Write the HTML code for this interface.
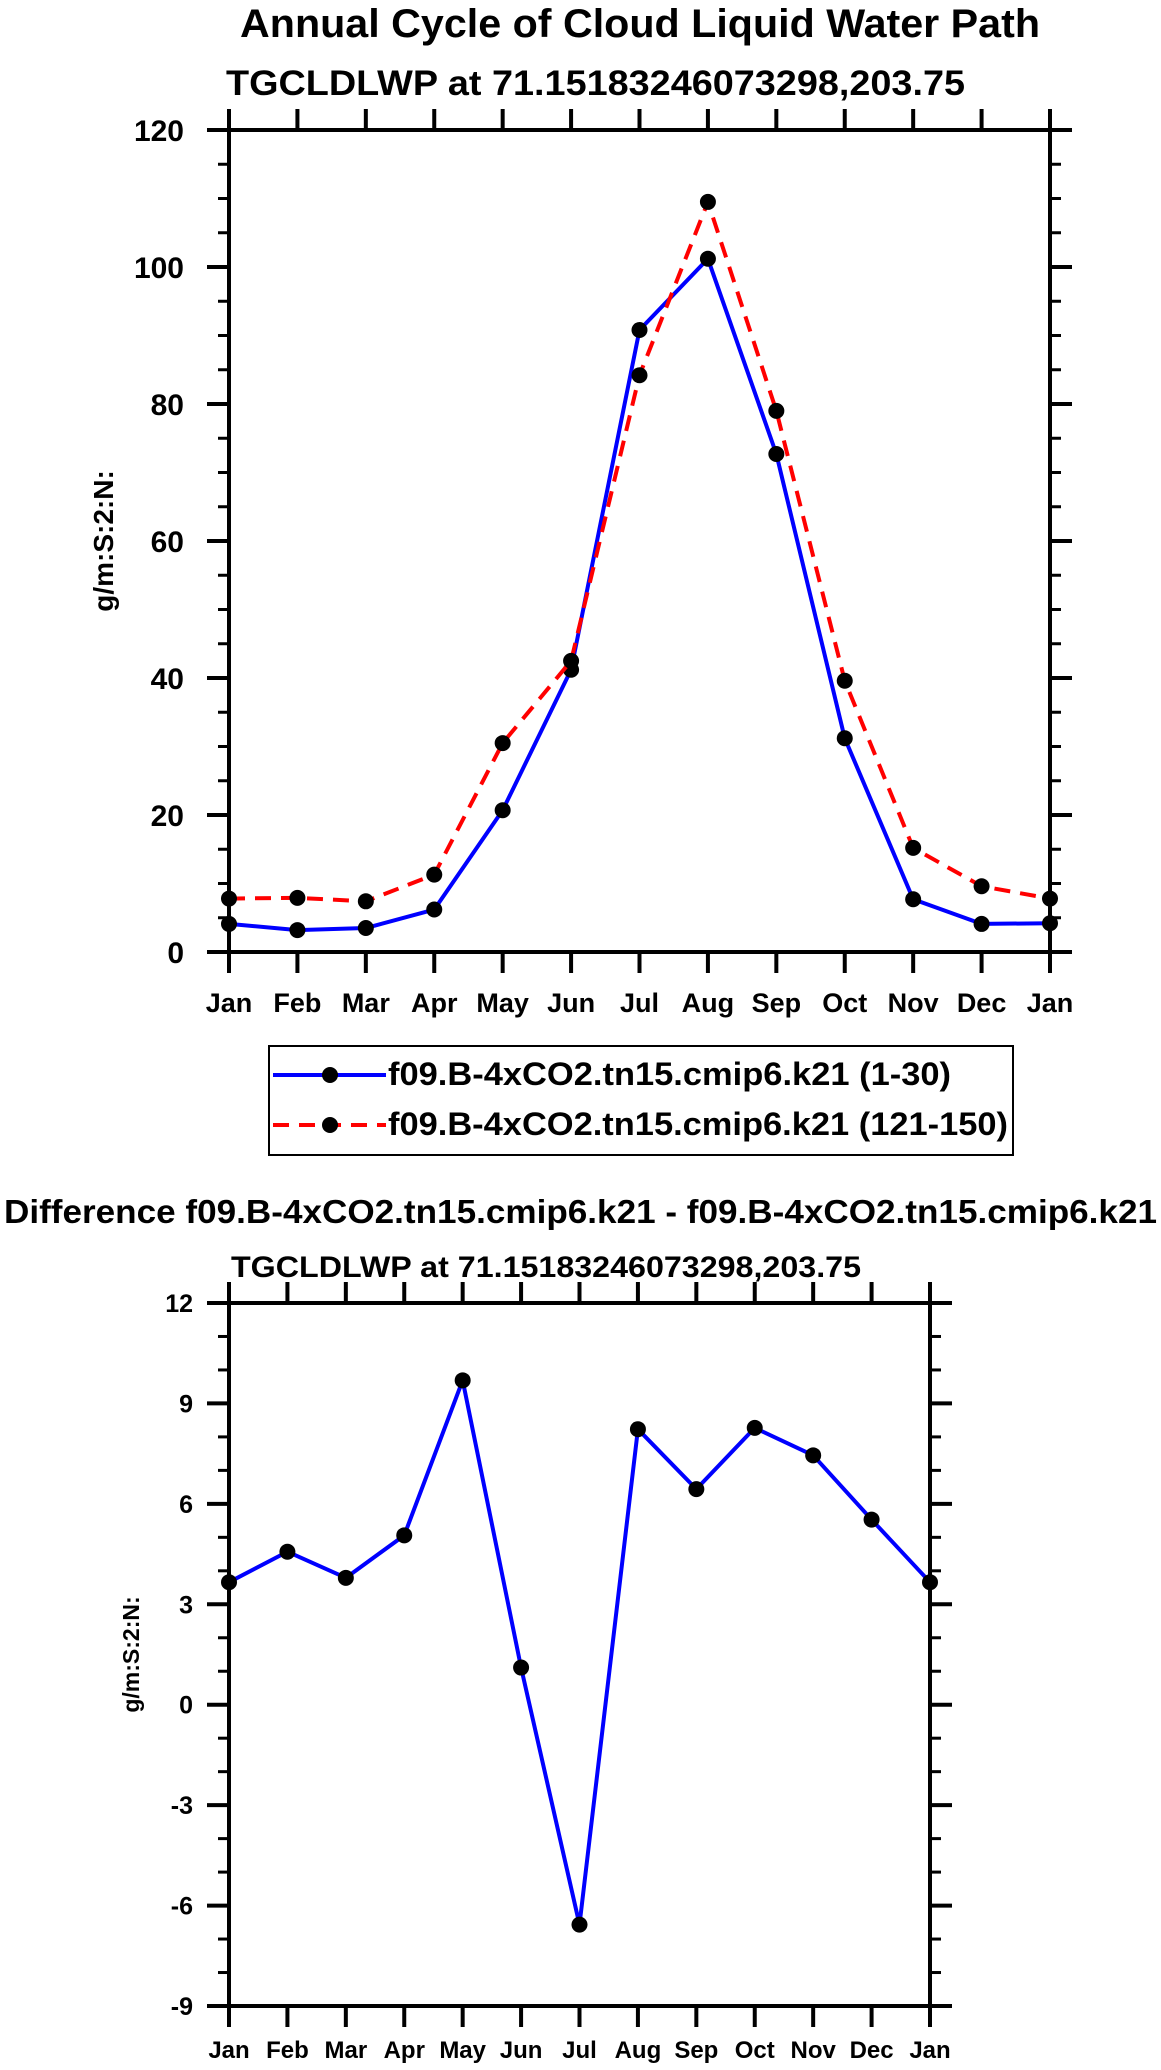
<!DOCTYPE html>
<html><head><meta charset="utf-8"><style>
html,body{margin:0;padding:0;background:#fff;}
svg{display:block;font-family:"Liberation Sans",Arial,sans-serif;font-weight:bold;}
</style></head><body>
<svg id="chart" width="1161" height="2070" viewBox="0 0 1161 2070" xmlns="http://www.w3.org/2000/svg">
<text x="240" y="37" font-size="40" textLength="800" lengthAdjust="spacingAndGlyphs">Annual Cycle of Cloud Liquid Water Path</text>
<text x="226" y="95" font-size="35" textLength="739" lengthAdjust="spacingAndGlyphs">TGCLDLWP at 71.15183246073298,203.75</text>
<g id="top"></g>
<g>
<rect x="269" y="1046" width="744" height="109" fill="none" stroke="#000" stroke-width="2"/>
<line x1="273" y1="1075" x2="386" y2="1075" stroke="#0000ff" stroke-width="4"/>
<circle cx="330" cy="1075" r="8" fill="#000"/>
<text x="388" y="1085" font-size="32" textLength="563" lengthAdjust="spacingAndGlyphs">f09.B-4xCO2.tn15.cmip6.k21 (1-30)</text>
<line x1="273" y1="1125" x2="386" y2="1125" stroke="#ff0000" stroke-width="4" stroke-dasharray="16,10"/>
<circle cx="330" cy="1125" r="8" fill="#000"/>
<text x="388" y="1135" font-size="32" textLength="620" lengthAdjust="spacingAndGlyphs">f09.B-4xCO2.tn15.cmip6.k21 (121-150)</text>
</g>
<text x="4" y="1223" font-size="33" textLength="1153" lengthAdjust="spacingAndGlyphs">Difference f09.B-4xCO2.tn15.cmip6.k21 - f09.B-4xCO2.tn15.cmip6.k21</text>
<text x="231" y="1277" font-size="30" textLength="630" lengthAdjust="spacingAndGlyphs">TGCLDLWP at 71.15183246073298,203.75</text>
<g id="bot"></g>
</svg>
<script>
const months = ["Jan","Feb","Mar","Apr","May","Jun","Jul","Aug","Sep","Oct","Nov","Dec","Jan"];
const blueValues = [4.1,3.2,3.5,6.2,20.7,41.2,90.8,101.2,72.7,31.2,7.7,4.1,4.2];
const redValues = [7.8,7.9,7.4,11.3,30.5,42.5,84.2,109.5,79.0,39.6,15.2,9.6,7.8];
const diffValues = [3.66,4.57,3.79,5.06,9.69,1.11,-6.57,8.23,6.44,8.27,7.45,5.53,3.66];
const topTicks = [0,20,40,60,80,100,120];
const botTicks = [-9,-6,-3,0,3,6,9,12];

const NS = "http://www.w3.org/2000/svg";
function mk(parent, tag, attrs, name, txt) {
  const e = document.createElementNS(NS, tag);
  for (const k in attrs) e.setAttribute(k, attrs[k]);
  
  
  if (txt !== undefined) e.textContent = txt;
  parent.appendChild(e);
  return e;
}

function plot(g, cfg) {
  const {L, R, T, B, ymin, ymax, ticks, minorStep, yfs, xfs, ylabX, yTitleX, yTitleFs, xlabY} = cfg;
  const xs = i => L + (R - L) * i / 12;
  const ys = v => B - (v - ymin) / (ymax - ymin) * (B - T);
  for (let v = ymin; v <= ymax + 1e-9; v += minorStep) {
    if (ticks.some(t => Math.abs(t - v) < 1e-9)) continue;
    mk(g, 'line', {x1: L - 11, x2: L, y1: ys(v), y2: ys(v), stroke: '#000', 'stroke-width': 3}, 'y-minor-tick');
    mk(g, 'line', {x1: R, x2: R + 11, y1: ys(v), y2: ys(v), stroke: '#000', 'stroke-width': 3}, 'y-minor-tick-right');
  }
  ticks.forEach(t => {
    mk(g, 'line', {x1: L - 22, x2: L, y1: ys(t), y2: ys(t), stroke: '#000', 'stroke-width': 4}, 'y-major-tick');
    mk(g, 'line', {x1: R, x2: R + 22, y1: ys(t), y2: ys(t), stroke: '#000', 'stroke-width': 4}, 'y-major-tick-right');
    mk(g, 'text', {x: ylabX, y: ys(t) + yfs * 0.36, 'font-size': yfs, 'text-anchor': 'end'}, 'y-tick-label', String(t));
  });
  months.forEach((m, i) => {
    mk(g, 'line', {x1: xs(i), x2: xs(i), y1: B, y2: B + 21, stroke: '#000', 'stroke-width': 4}, 'x-tick');
    mk(g, 'line', {x1: xs(i), x2: xs(i), y1: T - 21, y2: T, stroke: '#000', 'stroke-width': 4}, 'x-tick-top');
    mk(g, 'text', {x: xs(i), y: xlabY, 'font-size': xfs, 'text-anchor': 'middle'}, 'x-tick-label', m);
  });
  mk(g, 'rect', {x: L, y: T, width: R - L, height: B - T, fill: 'none', stroke: '#000', 'stroke-width': 4}, 'plot-frame');
  const yc = (T + B) / 2;
  mk(g, 'text', {x: yTitleX, y: yc, 'font-size': yTitleFs, 'text-anchor': 'middle', transform: `rotate(-90 ${yTitleX} ${yc})`}, 'y-axis-title', 'g/m:S:2:N:');
  return {xs, ys};
}

function series(g, ax, vals, color, dash, name) {
  const pts = vals.map((v, i) => ax.xs(i) + ',' + ax.ys(v)).join(' ');
  const a = {points: pts, fill: 'none', stroke: color, 'stroke-width': 4, 'stroke-linejoin': 'round'};
  if (dash) a['stroke-dasharray'] = dash;
  mk(g, 'polyline', a, name + '-line');
  vals.forEach((v, i) => mk(g, 'circle', {cx: ax.xs(i), cy: ax.ys(v), r: 8, fill: '#000'}, name + '-marker'));
}

const gt = document.getElementById('top');
const axT = plot(gt, {L: 229, R: 1050, T: 130, B: 952, ymin: 0, ymax: 120, ticks: topTicks, minorStep: 5, yfs: 30, xfs: 27, ylabX: 184, yTitleX: 113, yTitleFs: 28, xlabY: 1012});
series(gt, axT, blueValues, '#0000ff', null, 'blue-series');
series(gt, axT, redValues, '#ff0000', '16,10', 'red-series');

const gb = document.getElementById('bot');
const axB = plot(gb, {L: 229, R: 930, T: 1303, B: 2006, ymin: -9, ymax: 12, ticks: botTicks, minorStep: 1, yfs: 25, xfs: 24, ylabX: 193, yTitleX: 139, yTitleFs: 23, xlabY: 2058});
series(gb, axB, diffValues, '#0000ff', null, 'difference-series');
</script>
</body></html>
